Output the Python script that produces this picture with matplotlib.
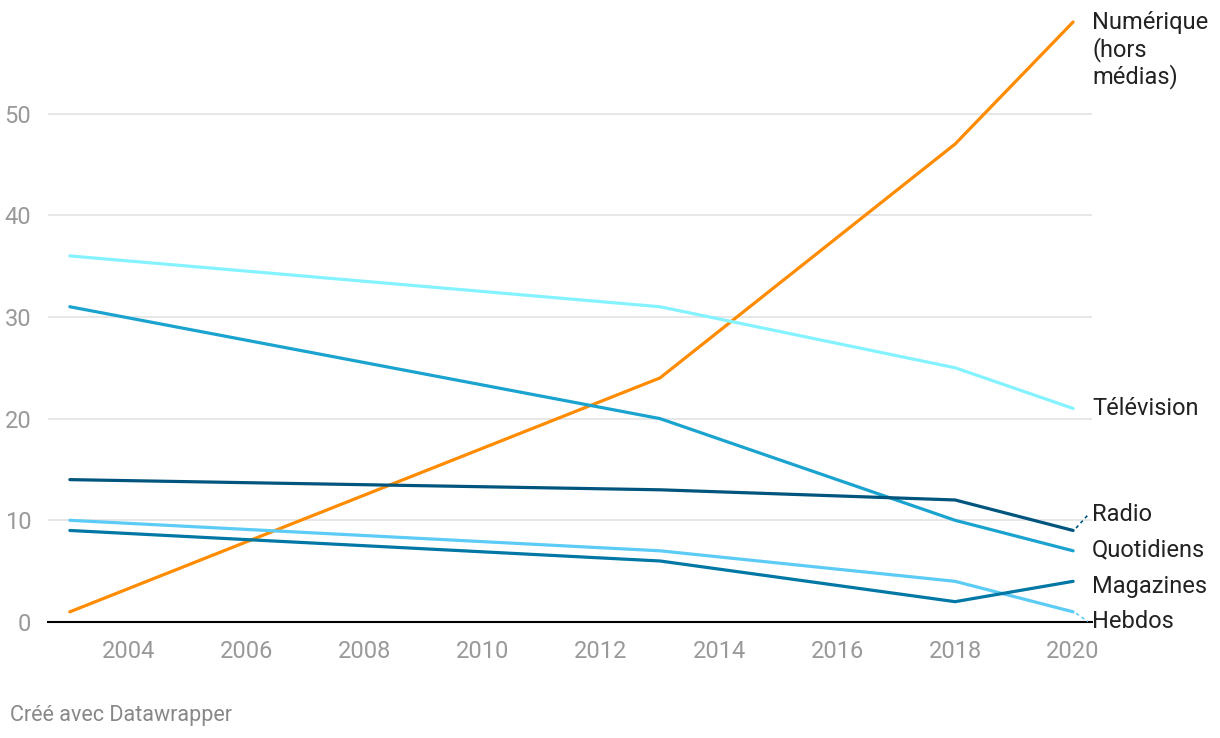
import matplotlib
matplotlib.use("Agg")
import matplotlib.pyplot as plt

plt.rcParams["font.family"] = ["Roboto", "DejaVu Sans"]

years = [2003, 2013, 2018, 2020]
series_names = ["Numérique\n(hors\nmédias)", "Télévision", "Quotidiens", "Radio", "Hebdos", "Magazines"]
numerique = [1, 24, 47, 59]
television = [36, 31, 25, 21]
quotidiens = [31, 20, 10, 7]
radio = [14, 13, 12, 9]
hebdos = [10, 7, 4, 1]
magazines = [9, 6, 2, 4]
colors = ["#ff8c00", "#84f3ff", "#1ba3d0", "#00557f", "#5ccbf5", "#0077a5"]
# label y positions (data units) where labels are pushed apart
label_y = [59, 21, 7.1, 10.6, 0.0, 3.5]

fig = plt.figure(figsize=(12.2, 7.38), dpi=100)
ax = fig.add_axes([48 / 1220, 116 / 738, 1044 / 1220, 600 / 738])

ax.set_xlim(2002.63, 2020.32)
ax.set_ylim(0, 59)

for y in [10, 20, 30, 40, 50]:
    ax.axhline(y, color="#e3e3e3", lw=1.2, zorder=0)
ax.axhline(0, color="#000000", lw=1.5, zorder=1, clip_on=False)

all_series = [numerique, television, quotidiens, radio, hebdos, magazines]
order = [1, 2, 4, 5, 3, 0]
for i in order:
    ax.plot(years, all_series[i], color=colors[i], lw=2.3, solid_capstyle="round",
            solid_joinstyle="round", zorder=3 + i, clip_on=False)

for i, name in enumerate(series_names):
    end = all_series[i][-1]
    ly = label_y[i]
    if i == 0:
        for k, line in enumerate(name.split("\n")):
            ax.text(2020.32, ly - k * 2.7, line, ha="left", va="center", fontsize=17,
                    color="#222222", clip_on=False)
        continue
    if abs(ly - end) > 0.5:
        ax.plot([2020.05, 2020.25], [end + (ly - end) * 0.15, ly - (ly - end) * 0.05],
                color=colors[i], lw=1.2, ls=(0, (2, 2)), clip_on=False)
    ax.text(2020.32, ly, name, ha="left", va="center", fontsize=17, color="#222222",
            clip_on=False)

ax.set_xticks(range(2004, 2021, 2))
ax.set_yticks([0, 10, 20, 30, 40, 50])
ax.tick_params(axis="both", length=0, labelsize=17, labelcolor="#999999")
ax.tick_params(axis="y", pad=12)
ax.tick_params(axis="x", pad=13)
for s in ax.spines.values():
    s.set_visible(False)

fig.text(10 / 1220, 1 - 715 / 738, "Créé avec Datawrapper", fontsize=15.5, color="#888888",
         ha="left", va="center")

fig.savefig("out.png", dpi=100)
